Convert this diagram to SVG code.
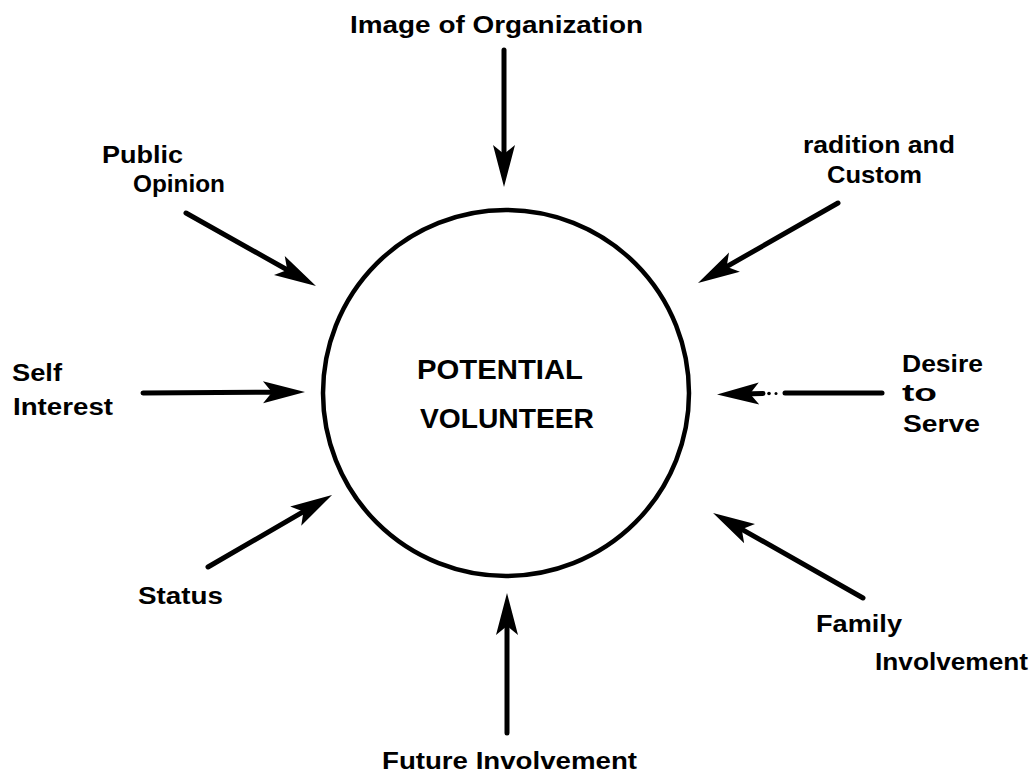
<svg xmlns="http://www.w3.org/2000/svg" width="1032" height="780" viewBox="0 0 1032 780">
<style>
text{font-family:"Liberation Sans","DejaVu Sans",Arial,sans-serif;font-weight:bold;fill:#000}
.lbl{font-size:23px}
.ctr{font-size:28px}
.conn{stroke:#000;stroke-width:5;stroke-linecap:round;fill:none}
</style>
<defs>
<marker id="ah" markerUnits="userSpaceOnUse" orient="auto" refX="0" refY="0" markerWidth="60" markerHeight="30" overflow="visible">
<path d="M25,0 L-17,-11 L-8,0 L-17,11 Z" fill="#000"/>
</marker>
</defs>
<rect width="1032" height="780" fill="#fff"/>
<g id="center">
<circle cx="506" cy="393" r="183" fill="none" stroke="#000" stroke-width="4.5"/>
<text class="ctr" x="417" y="379" textLength="166" lengthAdjust="spacingAndGlyphs">POTENTIAL</text>
<text class="ctr" x="420" y="428" textLength="174" lengthAdjust="spacingAndGlyphs">VOLUNTEER</text>
</g>
<g id="connectors">
<line class="conn" x1="504" y1="50" x2="504" y2="162" marker-end="url(#ah)"/>
<line class="conn" x1="186" y1="213" x2="294.2" y2="273.8" marker-end="url(#ah)"/>
<line class="conn" x1="143" y1="393" x2="280" y2="392.2" marker-end="url(#ah)"/>
<line class="conn" x1="208" y1="567" x2="310.4" y2="507.6" marker-end="url(#ah)"/>
<line class="conn" x1="507" y1="733" x2="507" y2="618" marker-end="url(#ah)"/>
<line class="conn" x1="838" y1="203" x2="719.7" y2="270.6" marker-end="url(#ah)"/>
<line class="conn" x1="863" y1="598" x2="734.8" y2="525.3" marker-end="url(#ah)"/>
<line class="conn" x1="882" y1="393" x2="785" y2="393"/>
<line class="conn" x1="763" y1="393.5" x2="742" y2="394" marker-end="url(#ah)"/>
<circle cx="769" cy="393.5" r="1.8" fill="#000"/>
<circle cx="776" cy="393.5" r="1.5" fill="#000"/>
</g>
<g id="image-of-organization"><text class="lbl" x="350" y="33" textLength="293" lengthAdjust="spacingAndGlyphs">Image of Organization</text></g>
<g id="public-opinion">
<text class="lbl" x="102" y="163" textLength="81" lengthAdjust="spacingAndGlyphs">Public</text>
<text class="lbl" x="133" y="192" textLength="92" lengthAdjust="spacingAndGlyphs">Opinion</text>
</g>
<g id="tradition-and-custom">
<text class="lbl" x="803" y="153" textLength="152" lengthAdjust="spacingAndGlyphs">radition and</text>
<text class="lbl" x="827" y="183" textLength="95" lengthAdjust="spacingAndGlyphs">Custom</text>
</g>
<g id="self-interest">
<text class="lbl" x="12" y="381" textLength="50" lengthAdjust="spacingAndGlyphs">Self</text>
<text class="lbl" x="13" y="415" textLength="100" lengthAdjust="spacingAndGlyphs">Interest</text>
</g>
<g id="desire-to-serve">
<text class="lbl" x="902" y="372" textLength="81" lengthAdjust="spacingAndGlyphs">Desire</text>
<text class="lbl" x="902" y="401" textLength="35" lengthAdjust="spacingAndGlyphs">to</text>
<text class="lbl" x="903" y="432" textLength="77" lengthAdjust="spacingAndGlyphs">Serve</text>
</g>
<g id="status"><text class="lbl" x="138" y="604" textLength="85" lengthAdjust="spacingAndGlyphs">Status</text></g>
<g id="family-involvement">
<text class="lbl" x="816" y="632" textLength="86" lengthAdjust="spacingAndGlyphs">Family</text>
<text class="lbl" x="875" y="670" textLength="153" lengthAdjust="spacingAndGlyphs">Involvement</text>
</g>
<g id="future-involvement"><text class="lbl" x="382" y="769" textLength="255" lengthAdjust="spacingAndGlyphs">Future Involvement</text></g>
</svg>
